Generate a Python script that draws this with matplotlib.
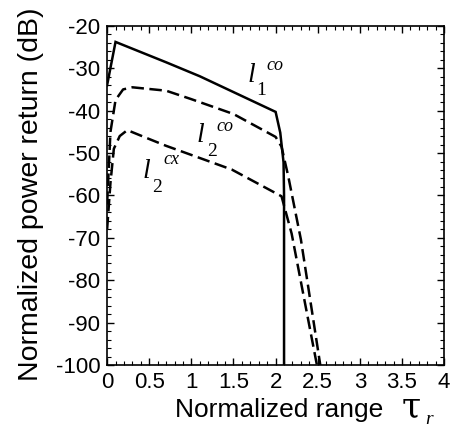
import matplotlib
matplotlib.use("Agg")
import matplotlib.pyplot as plt
from matplotlib.ticker import MultipleLocator

plt.rcParams['font.family'] = ['Liberation Sans', 'DejaVu Sans']
plt.rcParams['mathtext.fontset'] = 'custom'
plt.rcParams['mathtext.rm'] = 'Liberation Serif'
plt.rcParams['mathtext.it'] = 'Liberation Serif:italic'
plt.rcParams['axes.unicode_minus'] = False

# l1 co-polarized (solid)
l1co_x = [0.0, 0.10, 0.7, 1.1, 2.00, 2.055, 2.094, 2.10, 2.10]
l1co_y = [-34, -23.8, -28.6, -31.9, -40.3, -45.2, -52.2, -60, -100]
# l2 co-polarized (dashed)
l2co_x = [0.0, 0.04, 0.10, 0.19, 0.30, 0.70, 1.00, 1.50, 2.00, 2.07, 2.15, 2.30, 2.53]
l2co_y = [-62, -45, -37.5, -35, -34.5, -35.3, -37.3, -40.8, -46.2, -48.5, -55.5, -70.4, -100]
# l2 cross-polarized (dashed)
l2cx_x = [0.0, 0.04, 0.08, 0.15, 0.24, 0.45, 0.70, 1.48, 2.07, 2.19, 2.49]
l2cx_y = [-68, -57, -49, -46, -44.6, -46.3, -48.3, -53.9, -60.2, -69, -100]

xticks = [0, 0.5, 1, 1.5, 2, 2.5, 3, 3.5, 4]
xticklabels = ['0', '0.5', '1', '1.5', '2', '2.5', '3', '3.5', '4']
yticks = [-100, -90, -80, -70, -60, -50, -40, -30, -20]

fig = plt.figure(figsize=(4.5, 4.3), dpi=100)
ax = fig.add_axes([0.238, 0.151, 0.749, 0.789])

ax.plot(l1co_x, l1co_y, color='black', lw=1.8, solid_joinstyle='miter')
ax.plot(l2co_x, l2co_y, color='black', lw=1.8, dashes=(5, 2.2))
ax.plot(l2cx_x, l2cx_y, color='black', lw=1.8, dashes=(5, 2.2))

ax.set_xlim(0, 4)
ax.set_ylim(-100, -20)
ax.set_xticks(xticks)
ax.set_xticklabels(xticklabels)
ax.set_yticks(yticks)
ax.xaxis.set_minor_locator(MultipleLocator(0.1))
ax.yaxis.set_minor_locator(MultipleLocator(2))
ax.tick_params(which='both', direction='in', top=True, right=True, labelsize=16)
ax.tick_params(axis='x', pad=5)
ax.tick_params(axis='y', pad=5)
ax.tick_params(which='major', length=5, width=1)
ax.tick_params(which='minor', length=3, width=0.8)
for s in ax.spines.values():
    s.set_linewidth(1.2)

fig.text(31 / 450, 0.549, 'Normalized power return (dB)', fontsize=20.5,
         rotation=90, ha='center', va='center')
fig.text(175 / 450, 1 - 417 / 430, 'Normalized range', fontsize=19,
         ha='left', va='baseline')
fig.text(402 / 450, 1 - 417 / 430, '\u03c4', fontsize=25, family='DejaVu Serif',
         ha='left', va='baseline')
fig.text(425 / 450, 1 - 424 / 430, r'$r$', fontsize=14, ha='left', va='baseline')

ax.text(1.66, -33.2, r'$l$', fontsize=20, ha='left', va='baseline')
ax.text(1.77, -36.2, r'$1$', fontsize=14, ha='left', va='baseline')
ax.text(1.88, -30.4, r'$co$', fontsize=13, ha='left', va='baseline')

ax.text(1.06, -47.5, r'$l$', fontsize=20, ha='left', va='baseline')
ax.text(1.18, -50.8, r'$2$', fontsize=14, ha='left', va='baseline')
ax.text(1.29, -44.9, r'$co$', fontsize=13, ha='left', va='baseline')

ax.text(0.41, -55.8, r'$l$', fontsize=20, ha='left', va='baseline')
ax.text(0.53, -59.1, r'$2$', fontsize=14, ha='left', va='baseline')
ax.text(0.66, -52.7, r'$cx$', fontsize=13, ha='left', va='baseline')

fig.savefig('out.png', dpi=100)
